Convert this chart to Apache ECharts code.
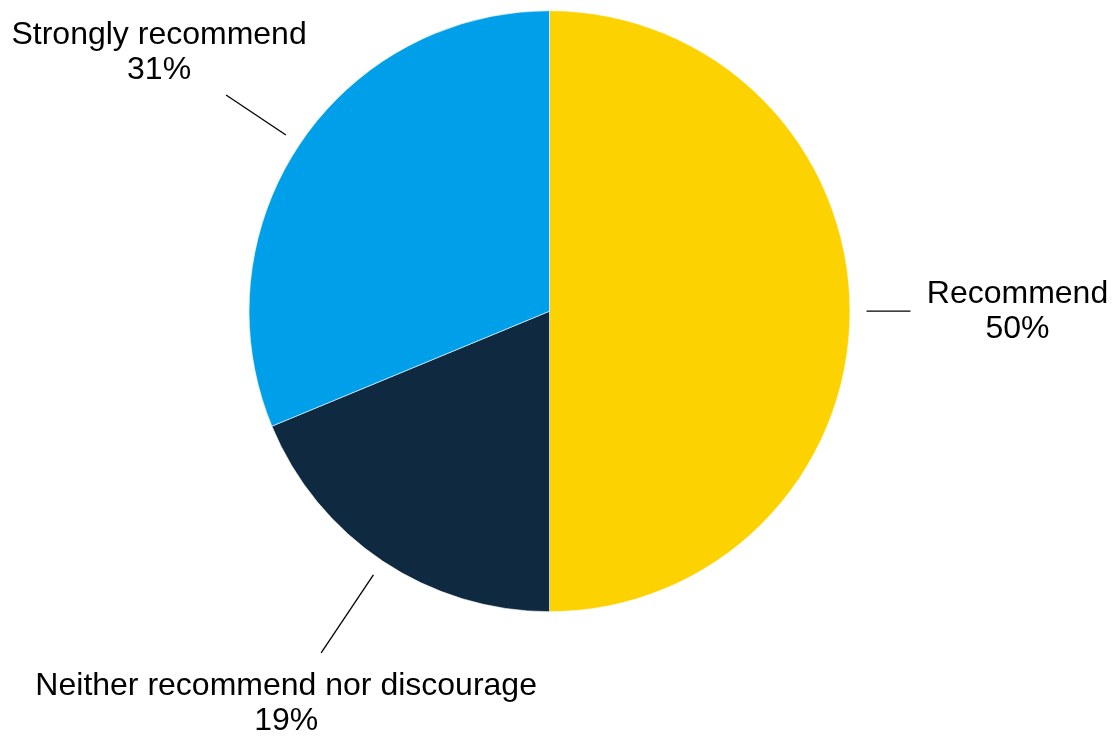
<!DOCTYPE html>
<html>
<head>
<meta charset="utf-8">
<title>Recommendation pie</title>
<script src="https://cdn.jsdelivr.net/npm/echarts@6/dist/echarts.min.js"></script>
<style>
  html, body { margin: 0; padding: 0; background: #fff; }
  #chart { width: 1115px; height: 736px; }
</style>
</head>
<body>
<div id="chart"></div>
<script>
// data
var categories = ['Recommend', 'Neither recommend nor discourage', 'Strongly recommend'];
var shares = [50, 18.75, 31.25];
var colors = ['#fcd200', '#0e2940', '#009fea'];

// label placement (line length from the gap, offset of text block from line end)
var lineLen = [44, 94, 72];
var textOffset = [[107, 0], [-35, 51], [-67, -42]];
var center = [549.5, 311.2];
var radius = 300.5;
var gap = 16.5;

var myChart = echarts.init(document.getElementById('chart'));

var data = categories.map(function (name, i) {
   return { name: name, value: shares[i], itemStyle: { color: colors[i] } };
});

var option = {
   animation: false,
   series: [{
      type: 'pie',
      center: center,
      radius: radius,
      startAngle: 90,
      clockwise: true,
      avoidLabelOverlap: false,
      itemStyle: { borderColor: '#fff', borderWidth: 0.6 },
      label: {
         show: true,
         position: 'outer',
         fontFamily: 'Liberation Sans, Arial, sans-serif',
         fontSize: 32,
         lineHeight: 35,
         color: '#000',
         align: 'center',
         formatter: function (p) {
            return p.name + '\n' + Math.round(p.value) + '%';
         }
      },
      labelLine: {
         show: true,
         length: 40,
         length2: 0,
         lineStyle: { color: '#000', width: 1.3 }
      },
      labelLayout: function (params) {
         var pts = params.labelLinePoints;
         if (!pts) return {};
         var i = params.dataIndex;
         var vx = pts[0][0] - center[0];
         var vy = pts[0][1] - center[1];
         var len = Math.sqrt(vx * vx + vy * vy);
         var ux = vx / len, uy = vy / len;
         var sx = pts[0][0] + ux * gap, sy = pts[0][1] + uy * gap;
         var ex = sx + ux * lineLen[i], ey = sy + uy * lineLen[i];
         return {
            x: ex + textOffset[i][0],
            y: ey + textOffset[i][1],
            align: 'center',
            verticalAlign: 'middle',
            labelLinePoints: [[sx, sy], [ex, ey], [ex, ey]]
         };
      },
      emphasis: { disabled: true },
      data: data
   }]
};

myChart.setOption(option);
window.addEventListener('resize', function () {
   myChart.resize();
});
</script>
</body>
</html>
